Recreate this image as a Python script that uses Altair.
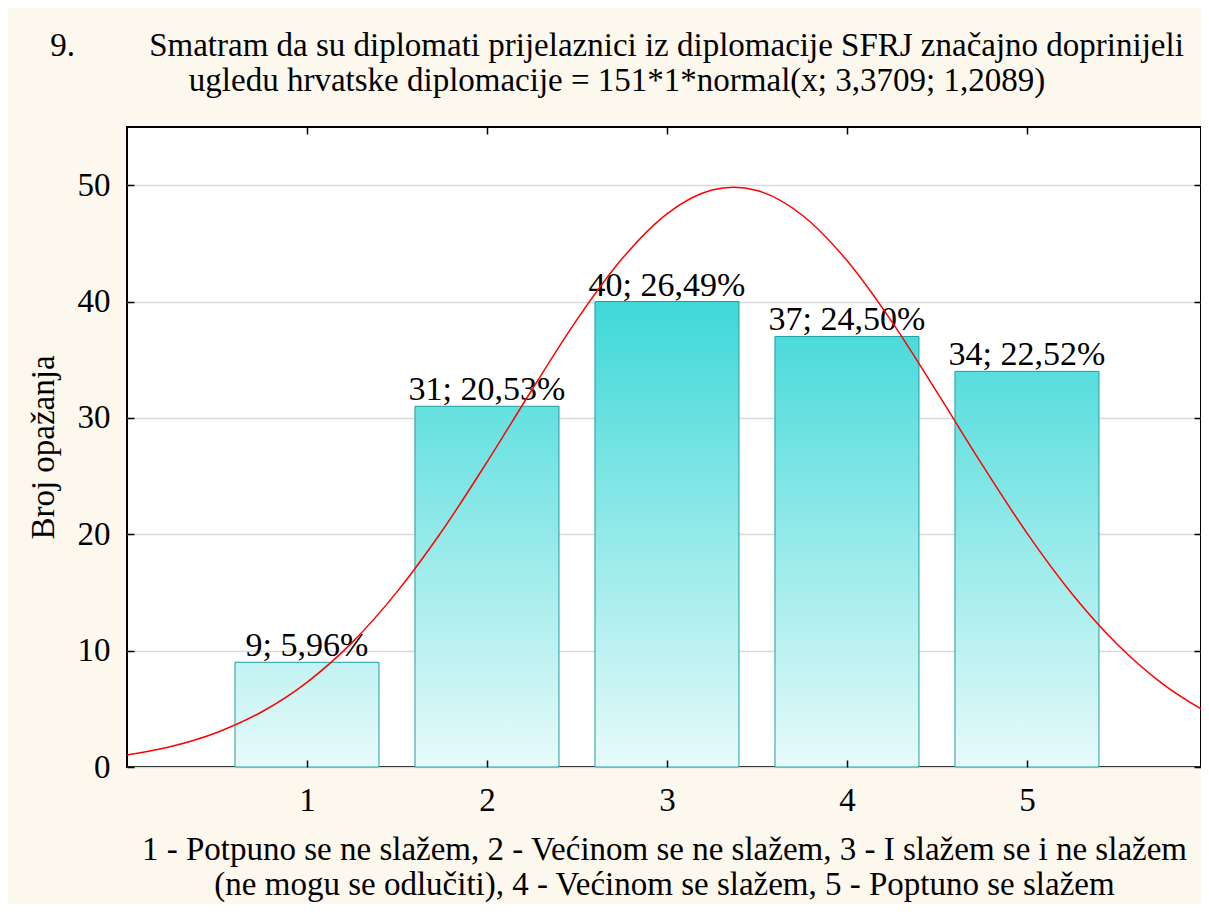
import altair as alt
import pandas as pd

# ---------------- data ----------------
categories = [1, 2, 3, 4, 5]
counts = [9, 31, 40, 37, 34]
bar_labels = ["9; 5,96%", "31; 20,53%", "40; 26,49%", "37; 24,50%", "34; 22,52%"]

# fitted normal curve
curve_x = [0, 0.25, 0.5, 0.75, 1, 1.25, 1.5, 1.75, 2, 2.25, 2.5, 2.75, 3, 3.25, 3.37,
           3.5, 3.75, 4, 4.25, 4.5, 4.75, 5, 5.25, 5.5, 5.75, 6]
curve_y = [1.02, 1.78, 2.97, 4.75, 7.28, 10.69, 15.05, 20.28, 26.20, 32.42, 38.44, 43.67,
           47.54, 49.58, 49.83, 49.55, 47.44, 43.52, 38.25, 32.21, 26.00, 20.10, 14.89,
           10.57, 7.19, 4.68]

x_ticks = [1, 2, 3, 4, 5]
y_ticks = [0, 10, 20, 30, 40, 50]

title_lines = [
    "9." + "\u00a0" * 9 + "Smatram da su diplomati prijelaznici iz diplomacije SFRJ značajno doprinijeli",
    "ugledu hrvatske diplomacije = 151*1*normal(x; 3,3709; 1,2089)",
]
x_title = [
    "1 - Potpuno se ne slažem, 2 - Većinom se ne slažem, 3 - I slažem se i ne slažem",
    "(ne mogu se odlučiti), 4 - Većinom se slažem, 5 - Poptuno se slažem",
]
y_title = "Broj opažanja"

# ---------------- chart ----------------
FONT = "Liberation Serif"
FS = 33
BG = "#FDF8EE"

bars_df = pd.DataFrame({"cat": categories, "count": counts, "label": bar_labels})
curve_df = pd.DataFrame({"x": curve_x, "y": curve_y})

# visible x range (the right frame sits a little before x = 6)
xscale = alt.Scale(domain=[0, 5.967], nice=False, zero=False, padding=0)
yscale = alt.Scale(domain=[0, 55], nice=False, zero=True, padding=0)

main_x_axis = alt.Axis(
    orient="bottom", values=x_ticks, format="d", ticks=False, tickSize=0, domain=False,
    grid=False, labelFont=FONT, labelFontSize=FS, labelColor="black", labelPadding=43,
    labelBaseline="alphabetic", title=x_title, titleFont=FONT, titleFontSize=FS,
    titleFontWeight="normal", titleColor="black", titleY=92, titleX=537,
    titleBaseline="alphabetic", titleLineHeight=35,
)
main_y_axis = alt.Axis(
    orient="left", values=y_ticks, format="d", ticks=False, tickSize=0, domain=False,
    grid=True, gridColor="#D9D9D9", gridWidth=1.5, labelFont=FONT, labelFontSize=FS,
    labelColor="black", labelPadding=17, labelFlush=False, title=y_title, titleFont=FONT,
    titleFontSize=FS, titleFontWeight="normal", titleColor="black", titleX=-74,
    titleY=320, titleBaseline="alphabetic", titleAngle=270,
)


def tick_axis(orient, values):
    return alt.Axis(
        orient=orient, values=values, labels=False, domain=False, grid=False, ticks=True,
        tickSize=7, tickWidth=1.5, tickColor="black", offset=-7, title=None, zindex=1,
    )


FULL_AT = 40  # value at which the plot-wide gradient reaches full colour
layers = []
for i, (c, v) in enumerate(zip(categories, counts)):
    grad = {
        "gradient": "linear",
        "x1": 0, "x2": 0, "y1": 1, "y2": 1 - FULL_AT / v,
        "stops": [
            {"offset": 0, "color": "#E8FAFA"},
            {"offset": 1, "color": "#3ED8D8"},
        ],
    }
    first = i == 0
    layer = (
        alt.Chart(bars_df)
        .transform_filter(alt.datum.cat == c)
        .transform_calculate(x0="datum.cat - 0.4", x1="datum.cat + 0.4")
        .mark_rect(fill=grad, stroke="#1E9E9E", strokeWidth=1)
        .encode(
            x=alt.X("x0:Q", scale=xscale, axis=main_x_axis if first else None),
            x2="x1:Q",
            y=alt.Y("count:Q", scale=yscale, axis=main_y_axis if first else None),
            y2=alt.datum(0),
        )
    )
    layers.append(layer)

text_layer = (
    alt.Chart(bars_df)
    .mark_text(font=FONT, fontSize=34, color="black", baseline="alphabetic", dy=-6)
    .encode(
        x=alt.X("cat:Q", scale=xscale, axis=tick_axis("bottom", x_ticks)),
        y=alt.Y("count:Q", scale=yscale, axis=tick_axis("left", y_ticks)),
        text="label:N",
    )
)

curve_layer = (
    alt.Chart(curve_df)
    .mark_line(color="#FF0000", strokeWidth=1.5, interpolate="monotone", clip=True)
    .encode(
        x=alt.X("x:Q", scale=xscale, axis=tick_axis("top", x_ticks)),
        y=alt.Y("y:Q", scale=yscale, axis=tick_axis("right", y_ticks)),
    )
)

chart = (
    alt.layer(*layers, text_layer, curve_layer)
    .resolve_axis(x="independent", y="independent")
    .properties(
        width=1074,
        height=640,
        autosize=alt.AutoSizeParams(type="none"),
        padding={"left": 119, "top": 119, "right": 0, "bottom": 137},
        background=BG,
        title=alt.TitleParams(
            text=title_lines, font=FONT, fontSize=FS, fontWeight="normal", color="black",
            anchor="middle", frame="group", dx=-47, offset=28, lineHeight=35,
        ),
    )
    .configure_view(fill="white", stroke="black", strokeWidth=2)
)

chart.save("out.html", embed_options={"renderer": "svg", "actions": False})
